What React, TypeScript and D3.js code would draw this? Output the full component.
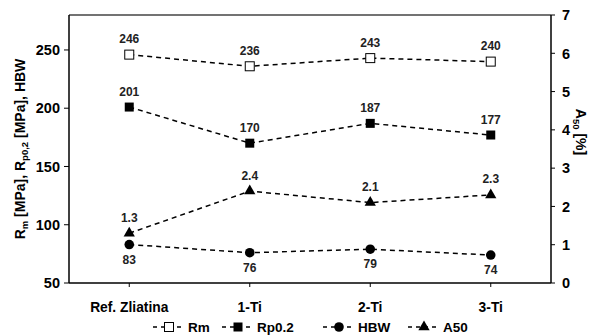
import React from "react";
import * as d3 from "d3";

const categories = ["Ref. Zliatina", "1-Ti", "2-Ti", "3-Ti"];
const rmValues = [246, 236, 243, 240];
const rpValues = [201, 170, 187, 177];
const hbwValues = [83, 76, 79, 74];
const a50Values = [1.3, 2.4, 2.1, 2.3];
const leftTicks = [50, 100, 150, 200, 250];
const rightTicks = [0, 1, 2, 3, 4, 5, 6, 7];

const W = 589, H = 336;
const L = 69, R = 551, T = 15, B = 283;
const font = "Arial, 'Liberation Sans', sans-serif";

export default function App() {
  const x = d3.scaleBand<string>().domain(categories).range([L, R]);
  const cx = (c: string) => (x(c) as number) + x.bandwidth() / 2;
  const yL = d3.scaleLinear().domain([50, 280]).range([B, T]);
  const yR = d3.scaleLinear().domain([0, 7]).range([B, T]);

  const line = d3.line<[number, number]>().x(d => d[0]).y(d => d[1]);

  const series = [
    { name: "Rm", vals: rmValues, y: yL, marker: "sqOpen", lab: "above", fmt: (v: number) => String(v) },
    { name: "Rp0.2", vals: rpValues, y: yL, marker: "sq", lab: "above", fmt: (v: number) => String(v) },
    { name: "HBW", vals: hbwValues, y: yL, marker: "circ", lab: "below", fmt: (v: number) => String(v) },
    { name: "A50", vals: a50Values, y: yR, marker: "tri", lab: "above", fmt: (v: number) => v.toFixed(1) },
  ];

  const drawMarker = (m: string, px: number, py: number, key: string) => {
    if (m === "sqOpen") return <rect key={key} x={px - 4.5} y={py - 4.5} width={9} height={9} fill="#fff" stroke="#000" strokeWidth={1} />;
    if (m === "sq") return <rect key={key} x={px - 4.5} y={py - 4.5} width={9} height={9} fill="#000" />;
    if (m === "circ") return <circle key={key} cx={px} cy={py} r={4.8} fill="#000" />;
    return <path key={key} d={d3.symbol().type(d3.symbolTriangle).size(55)() as string} transform={`translate(${px},${py})`} fill="#000" />;
  };

  const legendX = [153, 222, 323, 408];

  return (
    <svg width={W} height={H} style={{ position: "absolute", left: 0, top: 0, fontFamily: font }}>
      <rect width={W} height={H} fill="#fff" />
      {/* frame */}
      <line x1={L} x2={R} y1={T} y2={T} stroke="#444" strokeWidth={1.5} />
      <line x1={L} x2={L} y1={T} y2={B} stroke="#000" strokeWidth={1.5} />
      <line x1={R} x2={R} y1={T} y2={B} stroke="#000" strokeWidth={1.5} />
      <line x1={L} x2={R} y1={B} y2={B} stroke="#000" strokeWidth={1.5} />
      {leftTicks.map(t => (
        <g key={"l" + t}>
          <line x1={L - 5} x2={L} y1={yL(t)} y2={yL(t)} stroke="#000" strokeWidth={1} />
          <text x={L - 9} y={yL(t)} dy="0.36em" textAnchor="end" fontSize={14.5} fontWeight="bold">{t}</text>
        </g>
      ))}
      {rightTicks.map(t => (
        <g key={"r" + t}>
          <line x1={R} x2={R + 4} y1={yR(t)} y2={yR(t)} stroke="#000" strokeWidth={1} />
          <text x={R + 11} y={yR(t)} dy="0.36em" textAnchor="start" fontSize={14.5} fontWeight="bold">{t}</text>
        </g>
      ))}
      {categories.map(c => (
        <g key={"c" + c}>
          <line x1={cx(c)} x2={cx(c)} y1={B} y2={B + 4} stroke="#000" strokeWidth={1} />
          <text x={cx(c)} y={312} textAnchor="middle" fontSize={13.8} fontWeight="bold">{c}</text>
        </g>
      ))}
      {/* axis titles */}
      <text transform={`translate(25,${(T + B) / 2}) rotate(-90)`} textAnchor="middle" fontSize={14} fontWeight="bold">
        R<tspan fontSize={9.5} dy={3}>m</tspan><tspan dy={-3}> [MPa], R</tspan><tspan fontSize={9.5} dy={3}>p0,2</tspan><tspan dy={-3}> [MPa], HBW</tspan>
      </text>
      <text transform={`translate(576,132) rotate(90)`} textAnchor="middle" fontSize={14} fontWeight="bold">
        A<tspan fontSize={9.5} dy={3}>50</tspan><tspan dy={-3}> [%]</tspan>
      </text>
      {/* series */}
      {series.map(s => {
        const pts: [number, number][] = categories.map((c, i) => [cx(c), s.y(s.vals[i])]);
        return (
          <g key={s.name}>
            <path d={line(pts) as string} fill="none" stroke="#000" strokeWidth={1.5} strokeDasharray="5,4" />
            {pts.map((p, i) => drawMarker(s.marker, p[0], p[1], s.name + i))}
            {pts.map((p, i) => (
              <text key={"t" + s.name + i} x={p[0]} y={s.lab === "above" ? p[1] - 11.5 : p[1] + 19} textAnchor="middle" fontSize={12} fontWeight="bold" fill="#222">{s.fmt(s.vals[i])}</text>
            ))}
          </g>
        );
      })}
      {/* legend */}
      {series.map((s, i) => {
        const lx = legendX[i];
        return (
          <g key={"lg" + s.name}>
            <line x1={lx} x2={lx + 32} y1={327} y2={327} stroke="#000" strokeWidth={1.5} strokeDasharray="4,4" />
            {drawMarker(s.marker, lx + 16, 327, "lm" + i)}
            <text x={lx + 35} y={327} dy="0.36em" fontSize={13.5} fontWeight="bold">{s.name}</text>
          </g>
        );
      })}
    </svg>
  );
}
